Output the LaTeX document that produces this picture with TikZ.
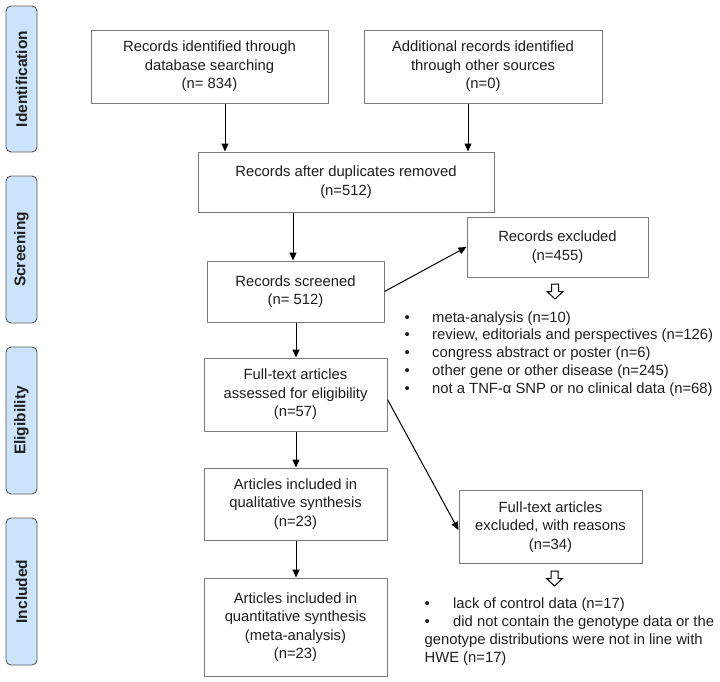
\documentclass[tikz,border=0pt]{standalone}
\usepackage{fontspec}
\setmainfont{Liberation Sans}
\usetikzlibrary{arrows.meta}
\definecolor{boxgray}{HTML}{7A7A7A}
\definecolor{labborder}{HTML}{5A5A5A}
\definecolor{labfill}{HTML}{CCE4FB}
\definecolor{textc}{HTML}{1E1E1E}
\newcommand\bxfont{\fontsize{14.8}{18.5}\selectfont}
\newcommand\lbfont{\fontsize{15.5}{18}\selectfont\bfseries}
\tikzset{
  box/.style={draw=boxgray, line width=1pt, fill=white, align=center, inner sep=0pt, text=textc, font=\bxfont},
  lab/.style={draw=labborder, fill=labfill, rounded corners=5pt, line width=0.9pt, rotate=90, inner sep=0pt, text=textc, font=\lbfont},
  arr/.style={-{Triangle[length=8pt,width=7pt]}, line width=1pt, black},
  item/.style={anchor=base west, inner sep=0pt, text=textc, font=\bxfont},
  hollow/.style={draw=black, line width=1pt, fill=white, line join=miter},
}
\newcommand\hollowarrow[2]{% center x, top y
  \draw[hollow] (#1-3.5,#2) -- (#1+3.5,#2) -- (#1+3.5,#2+7.5) -- (#1+8,#2+7.5) -- (#1,#2+15) -- (#1-8,#2+7.5) -- (#1-3.5,#2+7.5) -- cycle;}
\begin{document}
\begin{tikzpicture}[x=1pt,y=-1pt]
\useasboundingbox (0,0) rectangle (720,681);
% stage labels
\node[lab, minimum width=146pt, minimum height=31pt] (L1) at (21.5,79) {Identification};
\node[lab, minimum width=147pt, minimum height=31pt] (L2) at (21.5,249.5) {Screening};
\node[lab, minimum width=147pt, minimum height=31pt] (L3) at (21.5,420.5) {Eligibility};
\node[lab, minimum width=147pt, minimum height=31pt] (L4) at (21.5,591.5) {Included};
% boxes
\node[box, minimum width=237pt, minimum height=73pt] (A) at (209.5,66.5) {Records identified through\\database searching\\(n= 834)};
\node[box, minimum width=238pt, minimum height=73pt] (B) at (483,66.5) {Additional records identified\\through other sources\\(n=0)};
\node[box, minimum width=296pt, minimum height=60pt] (C) at (346,182) {Records after duplicates removed\\(n=512)};
\node[box, minimum width=177pt, minimum height=61pt] (D) at (295.5,291.5) {Records screened\\(n= 512)};
\node[box, minimum width=181pt, minimum height=60pt] (E) at (557.5,247) {Records excluded\\(n=455)};
\node[box, minimum width=183pt, minimum height=73pt] (F) at (295.5,394.5) {Full-text articles\\assessed for eligibility\\(n=57)};
\node[box, minimum width=183pt, minimum height=72pt] (G) at (295.5,504) {Articles included in\\qualitative synthesis\\(n=23)};
\node[box, minimum width=183pt, minimum height=73pt] (H) at (550.5,527) {Full-text articles\\excluded, with reasons\\(n=34)};
\node[box, minimum width=183pt, minimum height=98pt] (I) at (295.5,627) {Articles included in\\quantitative synthesis\\(meta-analysis)\\(n=23)};
% connectors
\coordinate (xa) at (225,0);
\coordinate (xb) at (468,0);
\coordinate (xc) at (293,0);
\coordinate (xd) at (296,0);
\draw[arr] (A.south -| xa) -- (C.north -| xa);
\draw[arr] (B.south -| xb) -- (C.north -| xb);
\draw[arr] (C.south -| xc) -- (D.north -| xc);
\draw[arr] (D.east) -- (E.west);
\draw[arr] (D.south -| xd) -- (F.north -| xd);
\draw[arr] (F.south -| xd) -- (G.north -| xd);
\draw[arr] (G.south -| xd) -- (I.north -| xd);
\draw[arr] ([yshift=-5pt]F.east) -- ([yshift=-3pt]H.west);
% hollow arrows
\hollowarrow{555}{284}
\hollowarrow{554.5}{571}
% exclusion list 1
\node[item] (e1) at (404.4,322) {\makebox[27.6pt][l]{•}meta-analysis (n=10)};
\node[item] (e2) at (404.4,339.75) {\makebox[27.6pt][l]{•}review, editorials and perspectives (n=126)};
\node[item] (e3) at (404.4,357.5) {\makebox[27.6pt][l]{•}congress abstract or poster (n=6)};
\node[item] (e4) at (404.4,375.25) {\makebox[27.6pt][l]{•}other gene or other disease (n=245)};
\node[item] (e5) at (404.4,393) {\makebox[27.6pt][l]{•}not a TNF-α SNP or no clinical data (n=68)};
% exclusion list 2
\node[item] (f1) at (424.4,608) {\makebox[28.6pt][l]{•}lack of control data (n=17)};
\node[item] (f2) at (424.4,626) {\makebox[28.6pt][l]{•}did not contain the genotype data or the};
\node[item] (f3) at (424.4,644) {genotype distributions were not in line with};
\node[item] (f4) at (424.4,662) {HWE (n=17)};
\end{tikzpicture}
\end{document}
